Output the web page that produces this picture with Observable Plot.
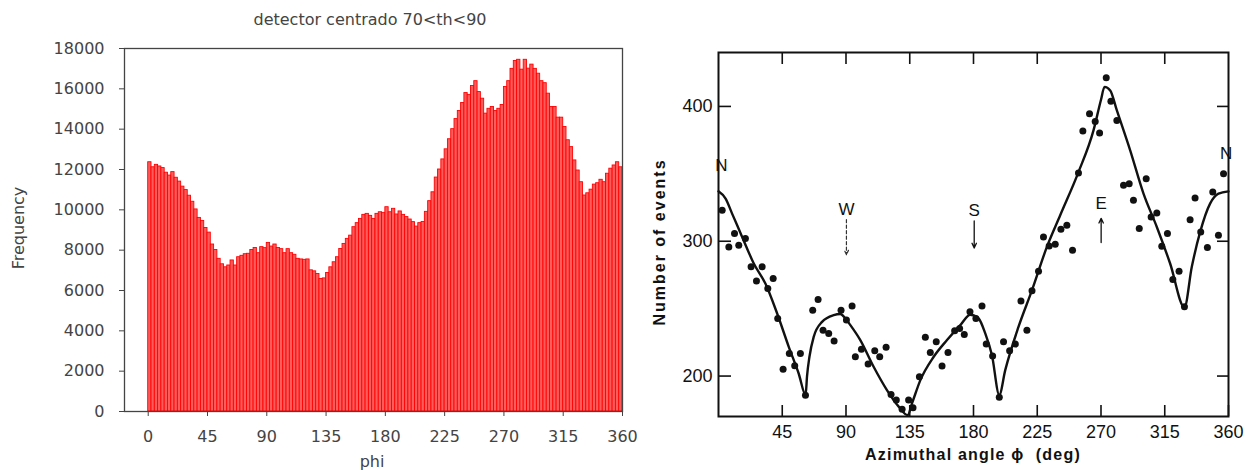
<!DOCTYPE html>
<html>
<head>
<meta charset="utf-8">
<script src="https://cdn.jsdelivr.net/npm/d3@7"></script>
<script src="https://cdn.jsdelivr.net/npm/@observablehq/plot@0.6"></script>
<style>
  html, body { margin: 0; padding: 0; background: #fff; }
  #wrap { position: relative; width: 1252px; height: 470px; overflow: hidden; background: #fff; }
  #wrap svg { position: absolute; top: 0; }
  .lbl { position: absolute; white-space: nowrap; transform: translate(-50%, -50%); }
  .l { font-family: "DejaVu Sans", sans-serif; font-size: 16px; color: #444; }
  .r { font-family: "Liberation Sans", Arial, sans-serif; font-size: 16px; font-weight: bold; color: #111; letter-spacing: 1.2px; }
</style>
</head>
<body>
<div id="wrap">
  <div class="lbl l" style="left:370px;top:19px;">detector centrado 70&lt;th&lt;90</div>
  <div class="lbl l" style="left:18px;top:228px;transform:translate(-50%,-50%) rotate(-90deg);">Frequency</div>
  <div class="lbl l" style="left:372px;top:461px;">phi</div>
  <div class="lbl r" style="left:660px;top:242px;letter-spacing:2px;transform:translate(-50%,-50%) rotate(-90deg);">Number of events</div>
  <div class="lbl r" style="left:973px;top:455px;">Azimuthal angle ϕ&nbsp; (deg)</div>
</div>
<script>
// ---------- Left panel: histogram (2.5 degree bins) ----------
const binWidth = 2.5;
const counts = [
  12360,12110,12230,12150,12070,11840,11700,11870,11590,11400,
  11150,10980,10700,10400,10020,9600,9450,9100,8870,8280,
  8010,7570,7300,7150,7240,7490,7240,7650,7720,7800,
  7820,8010,8110,7850,8150,8100,8360,8180,8280,8110,
  8050,7850,8050,7850,7770,7570,7540,7520,7540,7000,
  6950,6820,6570,6600,6870,7150,7400,7650,8060,8310,
  8560,8720,9140,9340,9550,9750,9800,9700,9550,9800,
  9880,9850,10130,9880,10050,9770,9920,9750,9640,9520,
  9390,9170,9340,9400,9900,10430,10870,11600,12000,12500,
  13000,13500,14000,14500,14900,15300,15790,15700,16140,16380,
  15840,15510,14770,15010,15100,14900,15010,15200,16090,16380,
  16990,17380,17440,16950,17440,17000,17200,16990,16750,16380,
  16280,15760,15100,15100,14570,14570,14110,13450,13110,12450,
  11950,11370,10710,10820,11000,11250,11320,11490,11370,11790,
  12040,12200,12360,12110
];
const leftXTicks = [0,45,90,135,180,225,270,315,360];
const leftYTicks = [0,2000,4000,6000,8000,10000,12000,14000,16000,18000];

// ---------- Right panel: measured points and fitted curve ----------
const pointPhi = [2.6,7.3,11.3,14.3,19,23,26.8,30.8,34.8,38.6,41.8,45.6,50,53.8,57.8,61.4,66.5,70.3,73.8,77.8,81.6,86.5,90.3,94.3,96.6,100.9,105.6,110.3,113.8,118.3,121.8,125.5,129.6,134.2,137.3,141.8,146,149.5,153.7,157.8,162,166.7,170.2,173.5,177.5,181.7,186,189,193.5,198.2,201.2,205.5,209.5,213.5,217.7,221.3,225.9,229.4,233.4,237.7,241.7,245.9,249.9,254.1,257.2,261.9,265.9,269,273.7,277,281.2,285.9,289.9,292.9,297,301.9,305.4,309.4,312.9,316.9,320.7,325.1,328.9,332.9,336.4,340.4,345.1,348.9,352.9,356.5];
const pointVal = [323,295.8,305.7,297,302,281,270.6,281,265,272.4,242.7,205,216.8,207.6,216.8,185.7,248.9,256.8,234,231.6,226,248.9,241.5,251.9,214.3,219.8,208.9,218.8,214.3,221.3,186.4,182.2,175.3,182.2,176.5,199.5,228.7,217.5,225.4,207.4,217.5,233.6,235.3,230.9,247.7,242.7,251.9,223.7,214.8,184.2,225.4,218.8,223.7,255.6,234,263.2,277.8,303.2,296.5,297.8,308.9,311.9,293.3,350.6,381.7,394.6,388.9,380.2,421.2,403.9,389.6,341.5,342.7,330.4,309.4,346.4,318,321,296.3,305.7,271.6,277.8,251.4,316,332.1,306.9,295.3,336.5,304.4,350.1];

const curvePhi = [0,5,9.6,16.7,24.9,33.1,41.4,49.6,56.6,61.5,62.5,64.2,67.2,73.1,81.3,86,89.6,93.1,100.1,109.5,118.9,127.2,133.5,136.6,142.5,151.9,161.3,170.7,177.7,183.6,188.3,193,198.2,202.4,211.8,221.3,231.8,241.2,254.1,264.7,270,272.5,276.5,281.2,290.6,300,309.4,318.8,328.9,334.1,340,347,352.9,360];
const curveVal = [337,331.6,320.5,303.2,283.5,268.6,246.4,221.7,201.9,186,200,214.3,229.1,240.2,245.2,246,242.7,237.8,226.7,206.9,189.6,177.3,171,179.8,197,214.3,226.7,237.8,245.5,242.7,231.6,215.6,186,204.4,236.6,263.7,295.8,319.3,351.3,382.2,405,414.5,411.9,397,367.4,335.3,310.6,283.5,251,281,306.9,327.9,335.3,337];

const rightXTicks = [45,90,135,180,225,270,315,360];
const rightTopTicks = [45,90,135,180,225,270,315];
const rightYTicks = [200,300,400];

const compassText = ["N","W","S","E","N"];
const compassPhi = [2,90.3,180.5,270.1,358.3];
const compassVal = [356,323.7,323,328,365];
// arrows: [phi, from value, to value, dashed]
const arrowPhi = [90.3,180.5,270.1];
const arrowFrom = [316,315,299];
const arrowTo = [290,295,317];
const arrowDash = ["3,2.5", null, null];

// ---------- build data tables ----------
const bins = counts.map((c, i) => ({x1: i * binWidth, x2: (i + 1) * binWidth, count: c}));
const points = pointPhi.map((p, i) => ({phi: p, v: pointVal[i]}));
const curve = curvePhi.map((p, i) => ({phi: p, v: curveVal[i]}));
const compass = compassText.map((t, i) => ({t, phi: compassPhi[i], v: compassVal[i]}));
const arrows = arrowPhi.map((p, i) => ({phi: p, a: arrowFrom[i], b: arrowTo[i], dash: arrowDash[i]}));

const left = Plot.plot({
  width: 640, height: 470,
  marginLeft: 124, marginRight: 18, marginTop: 48, marginBottom: 59,
  style: {fontFamily: "DejaVu Sans, sans-serif", fontSize: "16px", color: "#444", background: "transparent", overflow: "visible"},
  x: {domain: [-18, 360]},
  y: {domain: [0, 18000]},
  marks: [
    Plot.rectY(bins, {x1: "x1", x2: "x2", y: "count", fill: "#ff5c5c", stroke: "#ff0000", strokeWidth: 0.9}),
    Plot.frame({stroke: "#444", strokeWidth: 1.3}),
    Plot.axisX(leftXTicks, {tickSize: 5, tickPadding: 14, label: null, stroke: "#444"}),
    Plot.axisY(leftYTicks, {tickSize: 5, tickPadding: 15, label: null, tickFormat: d => String(d), stroke: "#444"})
  ]
});
left.style.left = "0px";

const right = Plot.plot({
  width: 612, height: 470,
  marginLeft: 78, marginRight: 24, marginTop: 52, marginBottom: 54,
  style: {fontFamily: "Liberation Sans, Arial, sans-serif", fontSize: "18px", color: "#111", background: "transparent", overflow: "visible"},
  x: {domain: [0, 360]},
  y: {domain: [170, 440]},
  marks: [
    Plot.axisX(rightXTicks, {anchor: "bottom", tickSize: -11, tickPadding: 20, label: null, strokeWidth: 1.6}),
    Plot.axisX(rightTopTicks, {anchor: "top", tickSize: -11, tickFormat: () => "", label: null, strokeWidth: 1.6}),
    Plot.axisY(rightYTicks, {anchor: "left", tickSize: -13, tickPadding: 19, label: null, strokeWidth: 1.6}),
    Plot.axisY(rightYTicks, {anchor: "right", tickSize: -12, tickFormat: () => "", label: null, strokeWidth: 1.6}),
    Plot.frame({stroke: "#111", strokeWidth: 2}),
    Plot.line(curve, {x: "phi", y: "v", curve: "monotone-x", stroke: "#111", strokeWidth: 2.4}),
    Plot.dot(points, {x: "phi", y: "v", r: 3.5, fill: "#111", stroke: "none"}),
    Plot.text(compass, {x: "phi", y: "v", text: "t", fontSize: 17, fill: "#111"}),
    Plot.arrow(arrows.filter(d => d.dash), {x: "phi", y1: "a", y2: "b", stroke: "#333", strokeWidth: 1.2, headLength: 6, headAngle: 50, strokeDasharray: "3,2.5"}),
    Plot.arrow(arrows.filter(d => !d.dash), {x: "phi", y1: "a", y2: "b", stroke: "#111", strokeWidth: 1.3, headLength: 6, headAngle: 50})
  ]
});
right.style.left = "640px";

const wrap = document.getElementById("wrap");
wrap.prepend(right);
wrap.prepend(left);
</script>
</body>
</html>
